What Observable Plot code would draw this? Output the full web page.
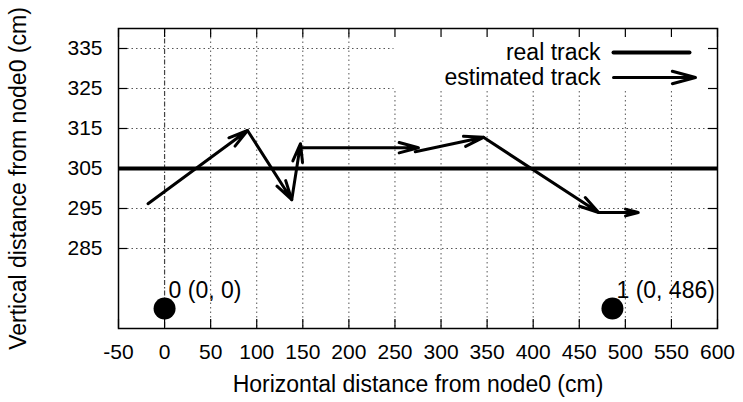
<!DOCTYPE html>
<html>
<head>
<meta charset="utf-8">
<script src="https://cdn.jsdelivr.net/npm/d3@7"></script>
<script src="https://cdn.jsdelivr.net/npm/@observablehq/plot@0.6"></script>
<style>body{margin:0;background:#fff;}</style>
</head>
<body>
<div id="chart"></div>
<script>
// ---- data ----
const xTicks = [-50, 0, 50, 100, 150, 200, 250, 300, 350, 400, 450, 500, 550, 600];
const yTicks = [285, 295, 305, 315, 325, 335];
const xDomain = [-50, 600];
const yDomain = [265, 340];

// real track (horizontal line)
const realTrackY = [305];

// estimated track: arrows from (x1,y1) to (x2,y2)
const arrowX1 = [-18, 90, 138, 147.5, 272, 346, 471];
const arrowY1 = [296.2, 314.5, 297.2, 310.2, 309.2, 312.8, 294];
const arrowX2 = [90, 138, 147.5, 275.5, 346, 471, 514];
const arrowY2 = [314.5, 297.2, 311.2, 310.2, 312.8, 294, 294];

// nodes
const nodeX = [0, 486];
const nodeY = [270, 270];
const nodeLabels = ["0 (0, 0)", "1 (0, 486)"];

const legendLabels = ["real track", "estimated track"];
const xTitle = "Horizontal distance from node0 (cm)";
const yTitle = "Vertical distance from node0 (cm)";

// ---- build ----
const arrows = arrowX1.map((x1, i) => ({x1, y1: arrowY1[i], x2: arrowX2[i], y2: arrowY2[i]}));
const nodes = nodeX.map((x, i) => ({x, y: nodeY[i], label: nodeLabels[i]}));

const W = 743, H = 402, mL = 118, mR = 26, mT = 28, mB = 74;
const pw = W - mL - mR, ph = H - mT - mB;
const font = "'Liberation Sans', Arial, Helvetica, sans-serif";
const gridStyle = {stroke: "#555", strokeWidth: 1, strokeDasharray: "1.5,3"};
const tickLen = 9;

const lineShape = {draw(c, l) { c.moveTo(0, 0); c.lineTo(0, -l); }};
const arrowShape = {draw(c, l) {
  const h = 24, a = 15 * Math.PI / 180;
  c.moveTo(0, 0); c.lineTo(0, -l);
  c.moveTo(-h * Math.sin(a), -l + h * Math.cos(a));
  c.lineTo(0, -l);
  c.lineTo(h * Math.sin(a), -l + h * Math.cos(a));
}};

const plot = Plot.plot({
  width: W, height: H,
  marginLeft: mL, marginRight: mR, marginTop: mT, marginBottom: mB,
  x: {domain: xDomain, axis: null},
  y: {domain: yDomain, axis: null},
  style: {fontFamily: font, fontSize: "21px", color: "black", background: "white"},
  marks: [
    Plot.ruleX(xTicks.filter(d => d !== 0), {x: d => d, ...gridStyle}),
    Plot.ruleX([0], {x: d => d, stroke: "#444", strokeWidth: 1.2, strokeDasharray: "5,2,1.5,2"}),
    Plot.ruleY(yTicks, {y: d => d, ...gridStyle}),
    // opaque legend box
    Plot.frame({fill: "white", stroke: "none", insetLeft: 275, insetBottom: 238}),
    // inward ticks on all four sides
    Plot.tickX(xTicks, {x: d => d, insetTop: ph - tickLen, stroke: "black", strokeWidth: 1.2}),
    Plot.tickX(xTicks, {x: d => d, insetBottom: ph - tickLen, stroke: "black", strokeWidth: 1.2}),
    Plot.tickY(yTicks, {y: d => d, insetRight: pw - tickLen, stroke: "black", strokeWidth: 1.2}),
    Plot.tickY(yTicks, {y: d => d, insetLeft: pw - tickLen, stroke: "black", strokeWidth: 1.2}),
    // real track
    Plot.ruleY(realTrackY, {y: d => d, stroke: "black", strokeWidth: 4}),
    // estimated track
    Plot.arrow(arrows, {x1: "x1", y1: "y1", x2: "x2", y2: "y2", stroke: "black", strokeWidth: 3, headAngle: 30, headLength: 10}),
    // nodes
    Plot.dot(nodes, {x: "x", y: "y", r: 11, fill: "black", stroke: "none"}),
    Plot.text(nodes, {x: "x", y: "y", text: "label", dx: 4, dy: -18, textAnchor: "start", fontSize: 23}),
    // axes
    Plot.axisX({ticks: xTicks, tickSize: 0, tickPadding: 16, fontSize: 21, tickFormat: d => String(d)}),
    Plot.axisY({ticks: yTicks, tickSize: 0, tickPadding: 16, fontSize: 21, tickFormat: d => String(d)}),
    Plot.text([xTitle], {text: d => d, frameAnchor: "bottom", dy: 56, lineAnchor: "middle", textAnchor: "middle", fontSize: 23}),
    Plot.text([yTitle], {text: d => d, frameAnchor: "left", dx: -100, rotate: -90, lineAnchor: "middle", textAnchor: "middle", fontSize: 23}),
    // legend
    Plot.text([legendLabels[0]], {text: d => d, frameAnchor: "top-right", dx: -117, dy: 24, textAnchor: "end", lineAnchor: "middle", fontSize: 23}),
    Plot.text([legendLabels[1]], {text: d => d, frameAnchor: "top-right", dx: -117, dy: 49, textAnchor: "end", lineAnchor: "middle", fontSize: 23}),
    Plot.vector([0], {frameAnchor: "top-right", dx: -104, dy: 24, length: 76, rotate: 90, anchor: "start", shape: lineShape, stroke: "black", strokeWidth: 4}),
    Plot.vector([0], {frameAnchor: "top-right", dx: -104, dy: 49, length: 82, rotate: 90, anchor: "start", shape: arrowShape, stroke: "black", strokeWidth: 3}),
    // border
    Plot.frame({stroke: "black", strokeWidth: 1.5})
  ]
});
document.getElementById("chart").append(plot);
</script>
</body>
</html>
